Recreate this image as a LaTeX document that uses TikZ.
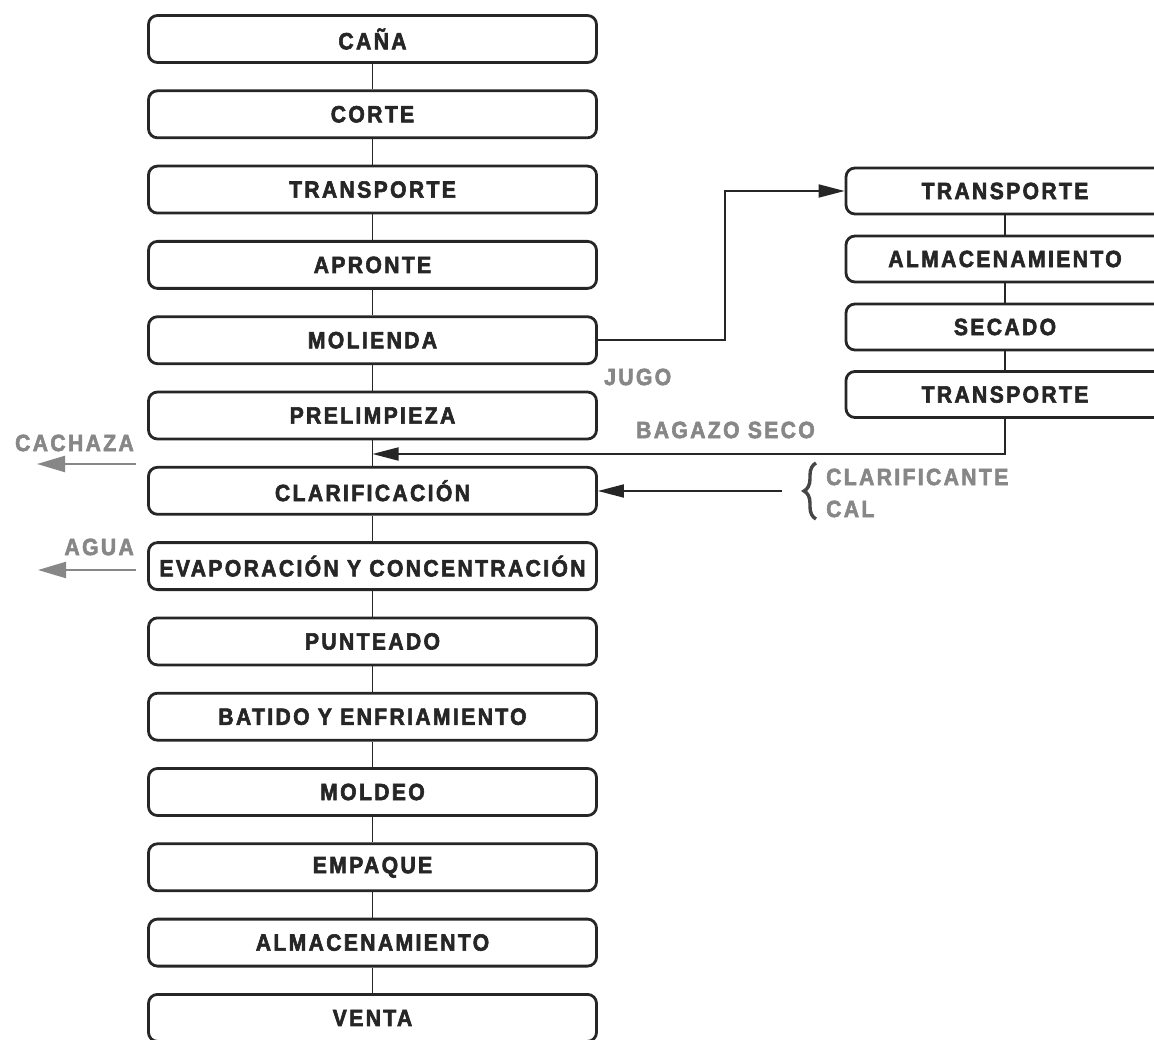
\documentclass[tikz,border=0pt]{standalone}
\usepackage{fontspec}
\usetikzlibrary{arrows.meta,decorations.pathreplacing}
\newfontfamily\cfont{Liberation Sans}[FakeStretch=0.9,LetterSpace=10,BoldFeatures={FakeBold=2.5}]
\definecolor{ink}{RGB}{38,38,38}
\definecolor{lgray}{RGB}{135,135,135}
\definecolor{dgray}{RGB}{70,70,70}
\tikzset{
  box/.style={draw=ink, line width=2.8pt, rounded corners=9pt, fill=white,
    minimum width=448pt, minimum height=47pt, inner sep=0pt,
    font=\cfont\bfseries\fontsize{23.5}{26}\selectfont, text=ink},
  rbox/.style={box, minimum width=318pt, minimum height=46pt},
  conn/.style={draw=ink, line width=1.8pt},
  arr/.style={conn, -{Triangle[length=26pt,width=13pt]}},
  garr/.style={draw=lgray, line width=2.2pt, -{Triangle[length=28pt,width=16pt]}},
  glabel/.style={font=\cfont\bfseries\fontsize{23.5}{26}\selectfont, text=lgray, inner sep=0pt}
}
\begin{document}
\begin{tikzpicture}[x=1pt,y=-1pt]
\useasboundingbox (0,0) rectangle (1154,1040);
\clip (0,0) rectangle (1154,1040);
\fill[white] (0,0) rectangle (1154,1040);
% main column
\foreach \t [count=\i from 0] in {CAÑA,CORTE,TRANSPORTE,APRONTE,MOLIENDA,PRELIMPIEZA,CLARIFICACIÓN,EVAPORACIÓN Y CONCENTRACIÓN,PUNTEADO,BATIDO Y ENFRIAMIENTO,MOLDEO,EMPAQUE,ALMACENAMIENTO,VENTA}{
  \node[box] (b\i) at (372.5,{39+75.3*\i}) {\t};
}
\foreach \i [evaluate=\i as \j using int(\i+1)] in {0,...,12}{
  \draw[conn] (b\i.south) -- (b\j.north);
}
% right column
\node[rbox] (r1) at (1005,191) {TRANSPORTE};
\node[rbox] (r2) at (1005,259) {ALMACENAMIENTO};
\node[rbox] (r3) at (1005,327) {SECADO};
\node[rbox] (r4) at (1005,394.5) {TRANSPORTE};
\draw[conn] (r1.south) -- (r2.north);
\draw[conn] (r2.south) -- (r3.north);
\draw[conn] (r3.south) -- (r4.north);
% jugo branch
\coordinate (jbend) at (725,0);
\draw[arr] (b4.east) -- (b4.east -| jbend) |- (r1.west);
\node[glabel, anchor=west] (jugo) at (604,377) {JUGO};
% bagazo seco return
\coordinate (bz) at (372.5,454);
\draw[arr] (r4.south) |- (bz);
\node[glabel, anchor=west] (bag) at (636,430) {BAGAZO SECO};
% clarificante
\coordinate (clsrc) at (782,491);
\draw[arr] (clsrc) -- (clsrc -| b6.east);
\draw[draw=dgray, line width=3.4pt, decorate, decoration={brace, amplitude=12pt}] (816,519) -- (816,463);
\node[glabel, anchor=west] (clar) at (826,477) {CLARIFICANTE};
\node[glabel, anchor=west] (cal) at (826,509) {CAL};
% cachaza
\coordinate (caA) at (136,464);
\coordinate (caB) at (37,464);
\draw[garr] (caA) -- (caB);
\node[glabel, anchor=east] (cach) at (134,443) {CACHAZA};
% agua
\coordinate (agA) at (136,570);
\coordinate (agB) at (38,570);
\draw[garr] (agA) -- (agB);
\node[glabel, anchor=east] (agua) at (134,547) {AGUA};
\end{tikzpicture}
\end{document}
